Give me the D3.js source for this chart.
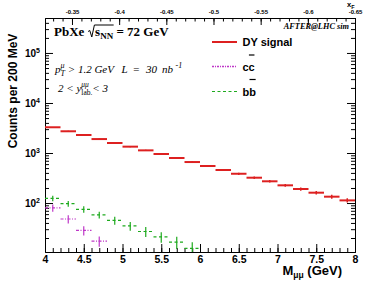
<!DOCTYPE html>
<html lang="en">
<head>
<meta charset="UTF-8">
<script src="https://d3js.org/d3.v7.min.js"></script>
<title>DY signal PbXe</title>
<style>
  body { margin: 0; background: #fff; }
  text { white-space: pre; }
</style>
</head>
<body>
<script>
// bins of 200 MeV, low edges in GeV
var binLow = [4.0, 4.2, 4.4, 4.6, 4.8, 5.0, 5.2, 5.4, 5.6, 5.8,
              6.0, 6.2, 6.4, 6.6, 6.8, 7.0, 7.2, 7.4, 7.6, 7.8]
var binWidth = 0.2

// counts
var dyCounts = [3270, 2720, 2290, 1900, 1585, 1340, 1130, 955, 795, 660,
                550, 457, 385, 321, 272, 226, 191, 161, 134, 113]
var dyErr = [57, 52, 48, 44, 40, 37, 34, 31, 28, 26,
             23, 21, 20, 18, 16, 15, 14, 13, 12, 11]
var bbCounts = [124, 97, 75, 58, 45, 35, 27, 21, 16.6, 12.4]
var bbErr = [16, 13, 11, 9, 8, 7, 6, 5, 4.5, 4]
var ccCounts = [80, 48, 28.5, 17.4]
var ccErr = [13, 9, 6, 4]

// tick labels
var xTicks = [4, 4.5, 5, 5.5, 6, 6.5, 7, 7.5, 8]
var yTicks = [100, 1000, 10000, 100000]
var xfTicks = [-0.35, -0.4, -0.45, -0.5, -0.55, -0.6, -0.65]

var W = 374, H = 297
var red = "#dd2020", green = "#1eaa1e", magenta = "#bf38c8"

var x = d3.scaleLinear().domain([4, 8]).range([45, 355])
var y = d3.scaleLog().domain([10.5, 5e5]).range([252, 18])
var xF = d3.scaleLinear().domain([-0.3214, -0.65]).range([45, 355])

var svg = d3.select("body").append("svg")
    .attr("width", W)
    .attr("height", H)
    .style("font-family", "'Liberation Sans', Arial, sans-serif")

svg.append("rect").attr("width", W).attr("height", H).attr("fill", "#fff")

svg.append("clipPath").attr("id", "plot")
    .append("rect")
    .attr("x", 45).attr("y", 18)
    .attr("width", 310).attr("height", 234)

// ---- axes ----
var minorX = d3.range(41).map(function (i) { return 4 + i * 0.1 })
var minorY = []
;[10, 100, 1000, 10000, 100000].forEach(function (d) {
    for (var k = 2; k <= 9; k++) {
        var v = d * k
        if (v > 10.5 && v < 5e5) minorY.push(v)
    }
})
var minorXf = d3.range(-0.33, -0.651, -0.01)

function styleAxis(g) {
    g.selectAll("path, line").attr("stroke", "#000").attr("stroke-width", 1)
}

// bottom
svg.append("g").attr("transform", "translate(0,252)")
    .call(d3.axisBottom(x).tickValues(minorX).tickSizeInner(-4).tickSizeOuter(0).tickFormat(""))
    .call(styleAxis)
svg.append("g").attr("transform", "translate(0,252)")
    .call(d3.axisBottom(x).tickValues(xTicks).tickSizeInner(-8).tickSizeOuter(0).tickPadding(4)
        .tickFormat(function (d) { return String(d) }))
    .call(styleAxis)
    .selectAll("text")
    .attr("font-size", "10.5px").attr("font-weight", "bold").attr("fill", "#000")
    .attr("font-family", "'Liberation Sans', Arial, sans-serif")

// top (x_F)
svg.append("g").attr("transform", "translate(0,18)")
    .call(d3.axisTop(xF).tickValues(minorXf).tickSizeInner(-3.5).tickSizeOuter(0).tickFormat(""))
    .call(styleAxis)
svg.append("g").attr("transform", "translate(0,18)")
    .call(d3.axisTop(xF).tickValues(xfTicks).tickSizeInner(-7).tickSizeOuter(0).tickPadding(4)
        .tickFormat(function (d) { return String(d) }))
    .call(styleAxis)
    .selectAll("text")
    .attr("font-size", "6px").attr("font-weight", "bold").attr("fill", "#000")
    .attr("font-family", "'Liberation Sans', Arial, sans-serif")

// left
svg.append("g").attr("transform", "translate(45,0)")
    .call(d3.axisLeft(y).tickValues(minorY).tickSizeInner(-4).tickSizeOuter(0).tickFormat(""))
    .call(styleAxis)
var yLab = svg.append("g").attr("transform", "translate(45,0)")
    .call(d3.axisLeft(y).tickValues(yTicks).tickSizeInner(-8).tickSizeOuter(0).tickPadding(5)
        .tickFormat(""))
    .call(styleAxis)
yLab.selectAll(".tick text")
    .attr("font-size", "10px").attr("font-weight", "bold").attr("fill", "#000")
    .attr("font-family", "'Liberation Sans', Arial, sans-serif")
    .each(function (d) {
        var t = d3.select(this)
        t.text("10")
        t.append("tspan").attr("dy", "-0.5em").attr("font-size", "7px")
            .text(Math.round(Math.log10(d)))
    })

// right
svg.append("g").attr("transform", "translate(355,0)")
    .call(d3.axisRight(y).tickValues(minorY).tickSizeInner(-4).tickSizeOuter(0).tickFormat(""))
    .call(styleAxis)
svg.append("g").attr("transform", "translate(355,0)")
    .call(d3.axisRight(y).tickValues(yTicks).tickSizeInner(-8).tickSizeOuter(0).tickFormat(""))
    .call(styleAxis)

// ---- histograms ----
var plot = svg.append("g").attr("clip-path", "url(#plot)")

function drawHist(counts, errs, color, width, dash, errWidth) {
    var g = plot.append("g")
    g.selectAll("line.h")
        .data(counts)
        .enter()
        .append("line")
        .attr("class", "h")
        .attr("x1", function (d, i) { return x(binLow[i]) })
        .attr("x2", function (d, i) { return x(binLow[i] + binWidth) })
        .attr("y1", function (d) { return y(d) })
        .attr("y2", function (d) { return y(d) })
        .attr("stroke", color)
        .attr("stroke-width", width)
        .attr("stroke-dasharray", dash)
    g.selectAll("line.v")
        .data(counts)
        .enter()
        .append("line")
        .attr("class", "v")
        .attr("x1", function (d, i) { return x(binLow[i] + binWidth / 2) })
        .attr("x2", function (d, i) { return x(binLow[i] + binWidth / 2) })
        .attr("y1", function (d, i) { return y(d + errs[i]) })
        .attr("y2", function (d, i) { return y(Math.max(d - errs[i], 1)) })
        .attr("stroke", color)
        .attr("stroke-width", errWidth)
}

drawHist(bbCounts, bbErr, green, 1.2, "3,2.5", 1.2)
drawHist(ccCounts, ccErr, magenta, 1.2, "3,1.5,1,1.5", 1.2)
drawHist(dyCounts, dyErr, red, 2, null, 1.5)

// ---- text helpers ----
function put(g, str, px, py, size, font, style) {
    var t = g.append("text")
        .attr("x", px).attr("y", py)
        .attr("font-family", font.family)
        .attr("font-weight", font.weight)
        .attr("font-style", style || font.style)
        .attr("font-size", size || font.size)
        .attr("fill", "#000")
        .text(str)
    return t.node().getComputedTextLength()
}

function drawRich(g, x0, y0, parts, font) {
    var cx = x0
    parts.forEach(function (p) {
        if (p.at) cx = p.at
        if (p.sup || p.sub) {
            var w = 0
            if (p.sup) w = Math.max(w, put(g, p.sup, cx, y0 - p.up, p.size, font, p.style))
            if (p.sub) w = Math.max(w, put(g, p.sub, cx, y0 + p.down, p.size, font, p.subStyle || p.style))
            cx += w + (p.pad || 0)
            return
        }
        cx += put(g, p.t, cx, y0 + (p.dy || 0), p.size, font, p.style)
    })
    return cx
}

var serifBold = {family: "'Liberation Serif', 'Times New Roman', serif", weight: "bold", style: "normal", size: "13px"}
var serifIt = {family: "'Liberation Serif', 'Times New Roman', serif", weight: "normal", style: "italic", size: "11px"}

// title: PbXe sqrt(s_NN) = 72 GeV
var tg = svg.append("g")
var cx = drawRich(tg, 54, 36, [{t: "PbXe "}], serifBold)
var rx = cx
cx = drawRich(tg, rx + 7.5, 36, [{t: "s"}, {t: "NN", size: "9px", dy: 3}], serifBold)
tg.append("path")
    .attr("d", "M" + (rx + 0.5) + ",31.5 L" + (rx + 2.2) + ",30.5 L" + (rx + 4.2) + ",37 L" +
        (rx + 6.8) + ",25 L" + (cx + 0.5) + ",25")
    .attr("fill", "none").attr("stroke", "#000").attr("stroke-width", 1)
drawRich(tg, cx, 36, [{t: " = 72 GeV"}], serifBold)

// cuts
drawRich(svg.append("g"), 55, 73, [
    {t: "p"},
    {sup: "\u03bc", sub: "T", size: "8px", up: 5, down: 3},
    {t: " > 1.2 GeV"},
    {t: "L", at: 121.5},
    {t: "=", at: 132.5},
    {t: "30", at: 146},
    {t: "nb", at: 162},
    {t: "-1", size: "8px", dy: -5, at: 175.5}
], serifIt)
drawRich(svg.append("g"), 58, 92, [
    {t: "2 < y"},
    {sup: "\u03bc\u03bc", sub: "lab.", size: "7.5px", up: 5, down: 3, subStyle: "normal"},
    {t: "< 3"}
], serifIt)

svg.append("text")
    .attr("x", 349).attr("y", 29)
    .attr("text-anchor", "end")
    .attr("font-family", "'Liberation Serif', 'Times New Roman', serif")
    .attr("font-style", "italic").attr("font-weight", "bold")
    .attr("font-size", "8.3px")
    .text("AFTER@LHC sim")

// x_F
var xfl = svg.append("text").attr("x", 347).attr("y", 6.5)
    .attr("font-size", "7.5px").attr("font-weight", "bold").text("x")
xfl.append("tspan").attr("dy", 2).attr("font-size", "5.5px").text("F")

// axis titles
svg.append("text")
    .attr("transform", "translate(16.5,91) rotate(-90)")
    .attr("text-anchor", "middle")
    .attr("font-size", "12px").attr("font-weight", "bold")
    .text("Counts per 200 MeV")

var xt = svg.append("text")
    .attr("x", 342).attr("y", 275)
    .attr("text-anchor", "end")
    .attr("font-size", "13px").attr("font-weight", "bold")
xt.append("tspan").text("M")
xt.append("tspan").attr("dy", 3).attr("font-size", "8.5px").text("\u03bc\u03bc")
xt.append("tspan").attr("dy", -3).text(" (GeV)")

// ---- legend ----
var legend = [
    {label: "DY signal", color: red, width: 2, dash: null, y: 42, bar: false},
    {label: "cc", color: magenta, width: 1.5, dash: "2,1,1,1", y: 66.5, bar: true, barY: 55},
    {label: "bb", color: green, width: 1.2, dash: "3,2.5", y: 91.5, bar: true, barY: 79.5}
]
var lg = svg.append("g")
legend.forEach(function (e) {
    lg.append("line")
        .attr("x1", 212).attr("x2", 237)
        .attr("y1", e.y).attr("y2", e.y)
        .attr("stroke", e.color).attr("stroke-width", e.width)
        .attr("stroke-dasharray", e.dash)
    var t = lg.append("text")
        .attr("x", 242.5).attr("y", e.y + 4)
        .attr("font-size", "11px").attr("font-weight", "bold")
        .text(e.label)
    if (e.bar) {
        var n = t.node()
        var x1 = n.getStartPositionOfChar(1).x
        var x2 = n.getEndPositionOfChar(1).x
        lg.append("line")
            .attr("x1", x1 + 0.3).attr("x2", x2 - 0.3)
            .attr("y1", e.barY).attr("y2", e.barY)
            .attr("stroke", "#000").attr("stroke-width", 1.2)
    }
})
</script>
</body>
</html>
